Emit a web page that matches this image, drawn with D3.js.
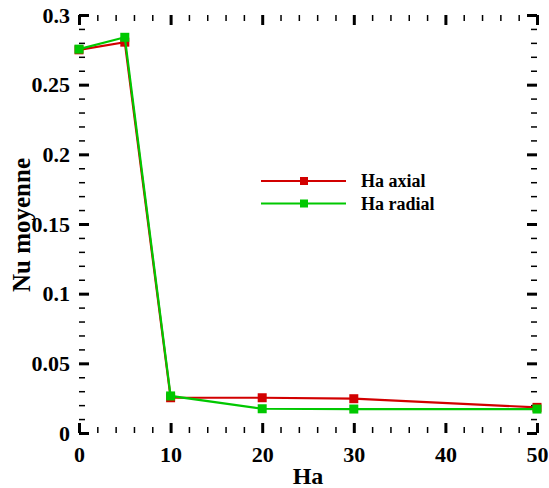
<!DOCTYPE html>
<html>
<head>
<meta charset="utf-8">
<script src="https://cdn.jsdelivr.net/npm/d3@7"></script>
<style>
  html, body { margin: 0; padding: 0; background: #fff; }
  svg { display: block; }
</style>
</head>
<body>
<svg id="chart" width="549" height="488"></svg>
<script>
// Hartmann number values and averaged Nusselt number for two magnetic field orientations
const haValues = [0, 5, 10, 20, 30, 50];
const nuAxial  = [0.275, 0.2805, 0.0253, 0.0253, 0.0246, 0.0184];
const nuRadial = [0.2755, 0.284, 0.0266, 0.0174, 0.0172, 0.0172];
const seriesNames = ["Ha axial", "Ha radial"];
const seriesColors = ["#d20000", "#00c800"];
const xTickValues = [0, 10, 20, 30, 40, 50];
const yTickValues = [0, 0.05, 0.1, 0.15, 0.2, 0.25, 0.3];
const yTickLabels = ["0", "0.05", "0.1", "0.15", "0.2", "0.25", "0.3"];

const FONT = "'Liberation Serif', 'Times New Roman', Times, 'DejaVu Serif', serif";

const svg = d3.select("#chart");
const plotLeft = 79, plotRight = 537, plotTop = 15, plotBottom = 433;

const x = d3.scaleLinear().domain([0, 50]).range([plotLeft, plotRight]);
const y = d3.scaleLinear().domain([0, 0.3]).range([plotBottom, plotTop]);

const xMinor = d3.range(0, 50.001, 2).filter(v => v % 10 !== 0);
const yMinor = d3.range(0, 0.3001, 0.01).map(v => +v.toFixed(2)).filter(v => Math.round(v * 100) % 5 !== 0);

const majorLen = 10, minorLen = 6;

// Bottom axis with labels, ticks pointing inward
const gBottom = svg.append("g").attr("transform", `translate(0,${plotBottom})`);
gBottom.call(d3.axisBottom(x).tickValues(xTickValues).tickSize(-majorLen).tickPadding(14).tickFormat(d3.format("d")));
gBottom.append("g").call(d3.axisBottom(x).tickValues(xMinor).tickSize(-minorLen).tickFormat(""));

// Top axis: ticks only
const gTop = svg.append("g").attr("transform", `translate(0,${plotTop})`);
gTop.call(d3.axisTop(x).tickValues(xTickValues).tickSize(-majorLen).tickFormat(""));
gTop.append("g").call(d3.axisTop(x).tickValues(xMinor).tickSize(-minorLen).tickFormat(""));

// Left axis with labels
const gLeft = svg.append("g").attr("transform", `translate(${plotLeft},0)`);
gLeft.call(d3.axisLeft(y).tickValues(yTickValues).tickSize(-majorLen).tickPadding(9)
  .tickFormat((d, i) => yTickLabels[i]));
gLeft.append("g").call(d3.axisLeft(y).tickValues(yMinor).tickSize(-minorLen).tickFormat(""));

// Right axis: ticks only
const gRight = svg.append("g").attr("transform", `translate(${plotRight},0)`);
gRight.call(d3.axisRight(y).tickValues(yTickValues).tickSize(-majorLen).tickFormat(""));
gRight.append("g").call(d3.axisRight(y).tickValues(yMinor).tickSize(-minorLen).tickFormat(""));

// Axis styling
svg.selectAll(".domain").attr("stroke", "#000").attr("stroke-width", 3);
svg.selectAll(".tick line").attr("stroke", "#000").attr("stroke-width", 1.5);
[gBottom, gTop, gLeft, gRight].forEach(g => {
  g.attr("font-family", FONT);
  g.selectAll(":scope > .tick line").attr("stroke-width", 3);
  g.selectAll("g .domain").remove();
});
svg.selectAll(".tick text")
  .attr("font-family", FONT).attr("font-weight", "bold").attr("font-size", 22)
  .attr("fill", "#000");
gBottom.selectAll(".tick text").attr("dy", "0.68em");

// Axis titles
svg.append("text").attr("x", (plotLeft + plotRight) / 2).attr("y", 484)
  .attr("text-anchor", "middle")
  .attr("font-family", FONT).attr("font-weight", "bold").attr("font-size", 24)
  .text("Ha");
svg.append("text").attr("transform", `translate(30,${(plotTop + plotBottom) / 2 + 1}) rotate(-90)`)
  .attr("text-anchor", "middle")
  .attr("font-family", FONT).attr("font-weight", "bold").attr("font-size", 25)
  .text("Nu moyenne");

// Data series
const allSeries = [nuAxial, nuRadial];
const line = d3.line().x(d => x(d[0])).y(d => y(d[1]));
const markerSize = 9;

allSeries.forEach((vals, si) => {
  const pts = haValues.map((h, i) => [h, vals[i]]);
  svg.append("path").datum(pts)
    .attr("fill", "none").attr("stroke", seriesColors[si]).attr("stroke-width", 2.2)
    .attr("d", line);
  svg.selectAll(null).data(pts).enter().append("rect")
    .attr("x", d => x(d[0]) - markerSize / 2).attr("y", d => y(d[1]) - markerSize / 2)
    .attr("width", markerSize).attr("height", markerSize)
    .attr("fill", seriesColors[si]);
});

// Legend
const legend = svg.append("g");
seriesNames.forEach((name, i) => {
  const ly = 181 + i * 22.5;
  legend.append("line").attr("x1", 261).attr("x2", 346).attr("y1", ly).attr("y2", ly)
    .attr("stroke", seriesColors[i]).attr("stroke-width", 2.2);
  legend.append("rect").attr("x", 304 - 4).attr("y", ly - 4).attr("width", 8).attr("height", 8)
    .attr("fill", seriesColors[i]);
  legend.append("text").attr("x", 361).attr("y", ly + 6)
    .attr("font-family", FONT).attr("font-weight", "bold").attr("font-size", 18)
    .text(name);
});
</script>
</body>
</html>
